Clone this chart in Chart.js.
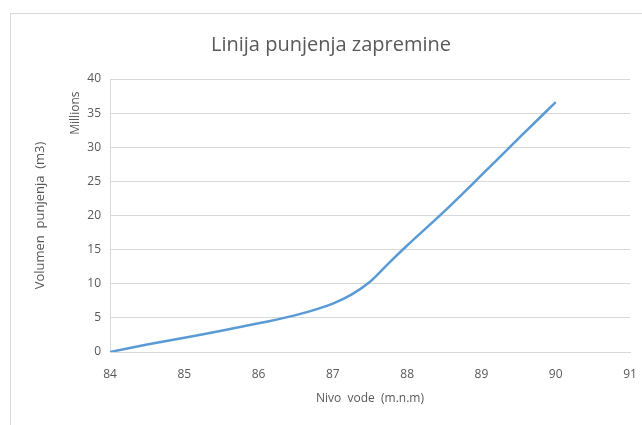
<!DOCTYPE html>
<html>
<head>
<meta charset="utf-8">
<script src="https://cdn.jsdelivr.net/npm/chart.js@4.4.0/dist/chart.umd.min.js"></script>
<style>
  body { margin: 0; background: #fff; overflow: hidden; }
  #wrap { position: relative; width: 642px; height: 425px; }
  #frame { position: absolute; left: 10px; top: 13px; width: 700px; height: 500px; border: 1px solid #d9d9d9; box-sizing: border-box; }
  canvas { position: absolute; left: 0; top: 0; }
</style>
</head>
<body>
<div id="wrap">
  <div id="frame"></div>
  <canvas id="chart" width="642" height="425"></canvas>
</div>
<script>
// water level (m.n.m) and filled volume (millions of m3)
const levels = [84, 84.5, 85, 85.5, 86, 86.5, 87, 87.25, 87.5, 87.75, 88, 88.5, 89, 89.5, 90];
const volumes = [0, 1.1, 2.1, 3.1, 4.2, 5.4, 7.1, 8.4, 10.3, 13.0, 15.6, 20.6, 25.9, 31.3, 36.6];
const xTicks = [84, 85, 86, 87, 88, 89, 90, 91];
const yTicks = [0, 5, 10, 15, 20, 25, 30, 35, 40];

const textColor = '#595959';
const gridColor = '#d9d9d9';

// small "Millions" unit label beside the y ticks
const millionsLabel = {
    id: 'millionsLabel',
    afterDraw(chart) {
        const ctx = chart.ctx;
        const y = chart.scales.y;
        ctx.save();
        ctx.translate(76, y.getPixelForValue(35));
        ctx.rotate(-Math.PI / 2);
        ctx.fillStyle = textColor;
        ctx.font = '12px "Open Sans", sans-serif';
        ctx.textAlign = 'center';
        ctx.textBaseline = 'middle';
        ctx.fillText('Millions', 0, 0);
        ctx.restore();
    }
};

const points = levels.map((l, i) => ({ x: l, y: volumes[i] }));

new Chart(document.getElementById('chart'), {
    type: 'line',
    data: {
        datasets: [{
            data: points,
            borderColor: '#5b9bd5',
            borderWidth: 2.5,
            pointRadius: 0,
            cubicInterpolationMode: 'monotone',
            fill: false
        }]
    },
    options: {
        responsive: false,
        animation: false,
        layout: { padding: { left: 32, right: 12, top: 0, bottom: 15 } },
        plugins: {
            legend: { display: false },
            tooltip: { enabled: false },
            title: {
                display: true,
                text: 'Linija punjenja zapremine',
                color: textColor,
                font: { family: '"Open Sans", sans-serif', size: 20, weight: 'normal' },
                padding: { top: 33, bottom: 22 }
            }
        },
        scales: {
            x: {
                type: 'linear',
                min: 84,
                max: 91,
                afterBuildTicks: s => { s.ticks = xTicks.map(v => ({ value: v })); },
                afterFit: s => { s.height = 58; s.paddingRight = 0; s.paddingLeft = 0; },
                grid: { display: false, drawTicks: false },
                border: { color: gridColor },
                ticks: { color: textColor, padding: 15, font: { family: '"Open Sans", sans-serif', size: 12 } },
                title: {
                    display: true,
                    text: 'Nivo  vode  (m.n.m)',
                    color: textColor,
                    font: { family: '"Open Sans", sans-serif', size: 12 },
                    padding: { top: 8 }
                }
            },
            y: {
                min: 0,
                max: 40,
                afterBuildTicks: s => { s.ticks = yTicks.map(v => ({ value: v })); },
                afterFit: s => { s.width = 78; },
                grid: { color: gridColor, drawTicks: false },
                border: { color: gridColor },
                ticks: { color: textColor, padding: 9, font: { family: '"Open Sans", sans-serif', size: 12 } },
                title: {
                    display: true,
                    text: 'Volumen  punjenja  (m3)',
                    color: textColor,
                    font: { family: '"Open Sans", sans-serif', size: 13 },
                    padding: { top: 0, bottom: 0 }
                }
            }
        }
    },
    plugins: [millionsLabel]
});
</script>
</body>
</html>
